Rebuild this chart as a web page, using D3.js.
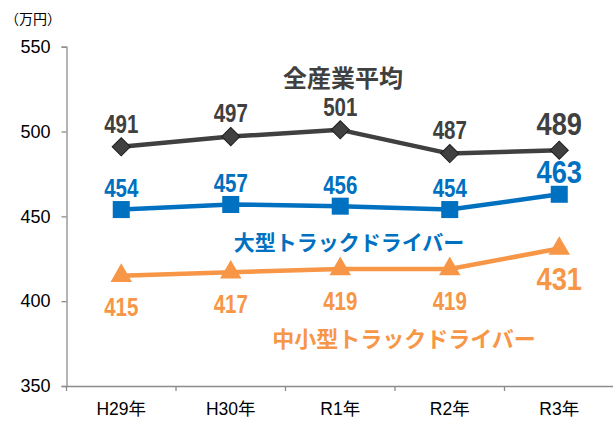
<!DOCTYPE html>
<html><head><meta charset="utf-8">
<script src="https://cdn.jsdelivr.net/npm/d3@7"></script>
<style>
html,body{margin:0;padding:0;background:#fff;}
svg{display:block;}
</style></head>
<body>
<svg id="chart" width="613" height="438"></svg>
<script>
const categories = ["H29年","H30年","R1年","R2年","R3年"];
const allIndustry = [491,497,501,487,489];
const largeTruck = [454,457,456,454,463];
const smallTruck = [415,417,419,419,431];
const yTicks = [350,400,450,500,550];
const seriesNames = ["全産業平均","大型トラックドライバー","中小型トラックドライバー"];
const unitLabel = "（万円）";

const svg = d3.select("#chart");
const numFont = "'Liberation Sans',Arial,sans-serif";
const jpFont = "'Noto Sans CJK JP','Noto Sans',sans-serif";

const x = d3.scaleBand().domain(categories).range([66.5, 614]);
const y = d3.scaleLinear().domain([350,550]).range([386, 46.7]);
const cx = d => x(d) + x.bandwidth()/2;

// Axes
const gy = svg.append("g").attr("transform","translate(66.5,0)")
  .call(d3.axisLeft(y).tickValues(yTicks).tickSize(5).tickPadding(11).tickFormat(d3.format("d")));
gy.attr("font-size",null).attr("font-family",null);
gy.select(".domain").attr("stroke","#8c8c8c").attr("stroke-width",1.3);
gy.selectAll(".tick line").attr("stroke","#8c8c8c").attr("stroke-width",1.3);
gy.selectAll(".tick text").style("font-family","'Liberation Sans',Arial,sans-serif").style("font-size","18px").attr("fill","#000");

const gx = svg.append("g").attr("transform","translate(0,386)")
  .call(d3.axisBottom(x).tickSize(0).tickPadding(17));
gx.attr("font-size",null).attr("font-family",null);
gx.select(".domain").attr("stroke","#8c8c8c").attr("stroke-width",1.3);
gx.selectAll(".tick text").style("font-family","'Liberation Sans',Arial,"+jpFont).style("font-size","17.5px").attr("fill","#000");
// tick marks at band boundaries
gx.selectAll(".bound").data(categories).enter().append("line")
  .attr("x1",d=>x(d)).attr("x2",d=>x(d)).attr("y1",0).attr("y2",5)
  .attr("stroke","#8c8c8c").attr("stroke-width",1.3);

svg.append("text").attr("x",5).attr("y",24).text(unitLabel)
  .style("font-family",jpFont).style("font-size","14px").attr("fill","#000");

const line = d3.line().x((d,i)=>cx(categories[i])).y(d=>y(d));

function drawSeries(data, color, kind, labelDy, lastDy){
  svg.append("path").datum(data).attr("d",line).attr("fill","none")
    .attr("stroke",color).attr("stroke-width",4.5).attr("stroke-linejoin","round");
  const symType = kind==="tri" ? d3.symbolTriangle : d3.symbolSquare;
  const symSize = kind==="tri" ? 200 : (kind==="diamond" ? 165 : 290);
  svg.selectAll(null).data(data).enter().append("path")
    .attr("d", d3.symbol().type(symType).size(symSize))
    .attr("transform",(d,i)=>`translate(${cx(categories[i])},${y(d)})` + (kind==="diamond"?" rotate(45)":""))
    .attr("fill",color).attr("stroke", kind==="diamond" ? "#1e1e1e" : "none").attr("stroke-width",1);
  svg.selectAll(null).data(data).enter().append("text")
    .attr("transform",(d,i)=>{
      const last = i===data.length-1;
      return `translate(${cx(categories[i])},${y(d) + (last? lastDy : labelDy)}) scale(${last?0.88:0.82},1)`;
    })
    .attr("text-anchor","middle").attr("dominant-baseline","central")
    .style("font-family",numFont).style("font-weight","bold")
    .style("font-size",(d,i)=> i===data.length-1? "31px" : "25px")
    .attr("fill",color).text(d=>d);
}

drawSeries(allIndustry, "#404040", "diamond", -23, -26);
drawSeries(largeTruck, "#0070c0", "square", -21, -22);
drawSeries(smallTruck, "#f79646", "tri", 32, 31);

function seriesLabel(txt, cxp, cyp, size, color){
  svg.append("text").attr("x",cxp).attr("y",cyp).attr("text-anchor","middle").attr("dominant-baseline","central")
    .style("font-family",jpFont).style("font-weight","bold").style("font-size",size+"px").attr("fill",color).text(txt);
}
seriesLabel(seriesNames[0], 343, 76, 24, "#404040");
seriesLabel(seriesNames[1], 349, 241, 21, "#0070c0");
seriesLabel(seriesNames[2], 404, 337, 22, "#f79646");
</script>
</body></html>
